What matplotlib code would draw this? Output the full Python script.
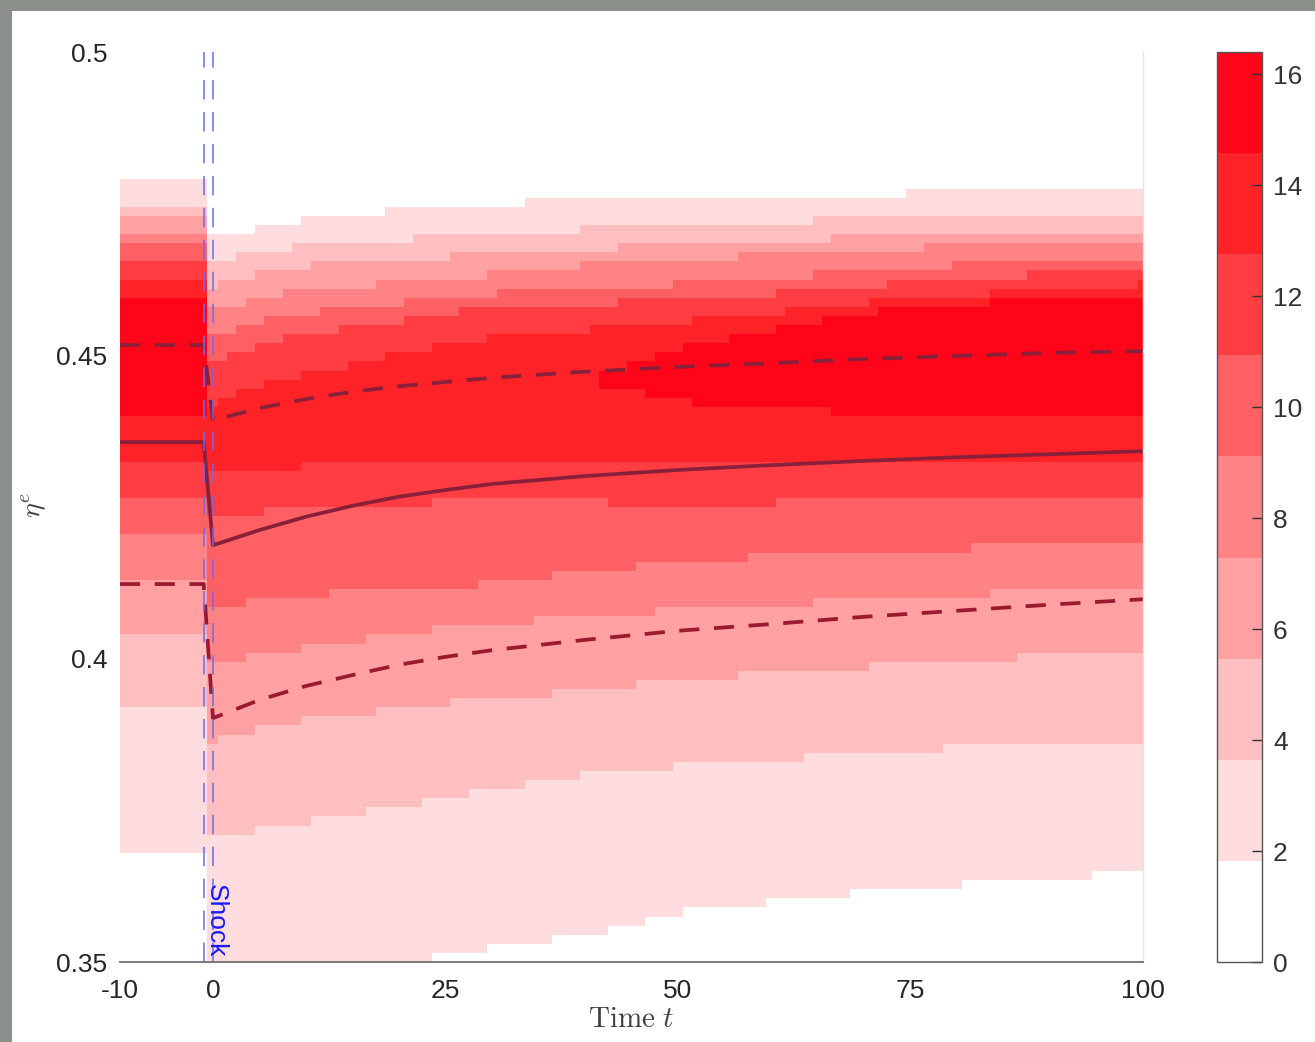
import numpy as np
import matplotlib
matplotlib.use("Agg")
import matplotlib.pyplot as plt
from matplotlib.colors import ListedColormap, BoundaryNorm
from matplotlib.cm import ScalarMappable
from matplotlib.patches import Rectangle

plt.rcParams['font.family'] = ['Liberation Sans', 'DejaVu Sans']
plt.rcParams['mathtext.fontset'] = 'cm'
plt.rcParams['lines.scale_dashes'] = False

# ---------------- data ----------------
level_step = 1.822                        # density per colour band
n_levels = 8
cbar_ticks = [0, 2, 4, 6, 8, 10, 12, 14, 16]
band_colors = ['#ffffff', '#ffdcde', '#ffbec0', '#ffa0a2', '#ff8284',
               '#ff6064', '#ff3d42', '#ff2328', '#ff0519']

# pre-shock density band edges (eta), level >= k for k = 1..8
pre_upper = [0.4784, 0.4740, 0.4726, 0.4695, 0.4680, 0.4649, 0.4621, 0.4591]
pre_lower = [0.3673, 0.3924, 0.4039, 0.4130, 0.4204, 0.4265, 0.4331, 0.4397]

# post-shock density band edges at knot times (level >= k, k = 1..8)
knot_t = [0, 5, 10, 27, 40, 52, 75, 100]
post_upper = [
    [0.4693, 0.4710, 0.4723, 0.4751, 0.4754, 0.4756, 0.4768, 0.4769],
    [0.4654, 0.4670, 0.4682, 0.4697, 0.4708, 0.4716, 0.4728, 0.4735],
    [0.4616, 0.4634, 0.4647, 0.4664, 0.4675, 0.4685, 0.4697, 0.4705],
    [0.4575, 0.4595, 0.4608, 0.4629, 0.4649, 0.4659, 0.4677, 0.4688],
    [0.4534, 0.4555, 0.4570, 0.4599, 0.4613, 0.4619, 0.4644, 0.4662],
    [0.4492, 0.4517, 0.4535, 0.4573, 0.4586, 0.4591, 0.4621, 0.4644],
    [0.4421, 0.4449, 0.4468, 0.4524, 0.4542, 0.4558, 0.4595, 0.4618],
    [0.4369, 0.4377, 0.4385, 0.4418, 0.4459, 0.4519, 0.4583, 0.4596],
]
post_lower = [
    [0.3437, 0.3454, 0.3467, 0.3517, 0.3545, 0.3586, 0.3622, 0.3648],
    [0.3706, 0.3720, 0.3730, 0.3775, 0.3808, 0.3826, 0.3850, 0.3866],
    [0.3866, 0.3886, 0.3899, 0.3930, 0.3948, 0.3967, 0.3993, 0.4014],
    [0.3993, 0.4008, 0.4019, 0.4054, 0.4069, 0.4082, 0.4102, 0.4118],
    [0.4085, 0.4097, 0.4105, 0.4120, 0.4143, 0.4164, 0.4179, 0.4192],
    [0.4234, 0.4242, 0.4248, 0.4260, 0.4258, 0.4255, 0.4262, 0.4265],
    [0.4308, 0.4314, 0.4318, 0.4326, 0.4327, 0.4329, 0.4326, 0.4321],
    [0.4369, 0.4377, 0.4385, 0.4418, 0.4459, 0.4420, 0.4400, 0.4395],
]

# lines
line_t = [-10, -1, 0, 5, 10, 15, 20, 25, 30, 40, 50, 60, 70, 80, 90, 100]
mean_line = [0.4357, 0.4357, 0.4187, 0.4212, 0.4234, 0.4252, 0.4267, 0.4278,
             0.4288, 0.4301, 0.4311, 0.4319, 0.4326, 0.4332, 0.4337, 0.4342]
upper_line = [0.4517, 0.4517, 0.4393, 0.4413, 0.4428, 0.4440, 0.4449, 0.4456,
              0.4463, 0.4473, 0.4481, 0.4487, 0.4494, 0.4499, 0.4504, 0.4507]
lower_line = [0.4123, 0.4123, 0.3902, 0.3932, 0.3955, 0.3973, 0.3990, 0.4003,
              0.4014, 0.4031, 0.4046, 0.4057, 0.4069, 0.4079, 0.4089, 0.4098]
shock_times = [-1, 0]

xticks = [-10, 0, 25, 50, 75, 100]
yticks = [0.35, 0.4, 0.45, 0.5]
ytick_labels = ['0.35', '0.4', '0.45', '0.5']

# ---------------- density field ----------------
eta_edges = np.linspace(0.35, 0.5, 101)
eta_c = 0.5 * (eta_edges[:-1] + eta_edges[1:])

post_centers = np.arange(0, 101)
t_edges = np.concatenate([[-10.0, -0.6], np.arange(0.5, 100, 1.0), [100.0]])

cols = []
pre_count = np.zeros_like(eta_c)
for k in range(n_levels):
    pre_count += (eta_c >= pre_lower[k]) & (eta_c < pre_upper[k])
cols.append(pre_count)
for tc in post_centers:
    cnt = np.zeros_like(eta_c)
    for k in range(n_levels):
        up = np.interp(tc, knot_t, post_upper[k])
        lo = np.interp(tc, knot_t, post_lower[k])
        cnt += (eta_c >= lo) & (eta_c < up)
    cols.append(cnt)
Z = np.array(cols).T * level_step + level_step / 2

# ---------------- figure ----------------
W, H = 1315, 1042
fig = plt.figure(figsize=(W / 100, H / 100), dpi=100)
fig.patch.set_facecolor('white')
gray = '#8b918a'
fig.patches.append(Rectangle((0, 0), 12 / W, 1, transform=fig.transFigure,
                             facecolor=gray, edgecolor='none', zorder=-10))
fig.patches.append(Rectangle((0, 1 - 11 / H), 1, 11 / H, transform=fig.transFigure,
                             facecolor=gray, edgecolor='none', zorder=-10))

ax = fig.add_axes([120 / W, 1 - 962 / H, (1143 - 120) / W, (962 - 52) / H])
bounds = np.arange(n_levels + 2) * level_step
cmap = ListedColormap(band_colors)
norm = BoundaryNorm(bounds, cmap.N)
ax.pcolormesh(t_edges, eta_edges, Z, cmap=cmap, norm=norm, shading='flat',
              antialiased=False, linewidth=0, rasterized=True)

line_col = '#8a1f3a'
ax.plot(line_t, mean_line, color=line_col, lw=2.7, solid_capstyle='butt')
ax.plot(line_t, upper_line, color=line_col, lw=2.7, dashes=(14.5, 10.5))
ax.plot(line_t, lower_line, color='#9b1a30', lw=2.7, dashes=(14.5, 10.5))

for st in shock_times:
    ax.axvline(st, color='#6a6af2', lw=1.1, dashes=(14, 9))
ax.text(0.35, 0.3507, 'Shock', rotation=-90, color='#1a1aff', fontsize=19,
        ha='center', va='bottom')

ax.set_xlim(-10, 100)
ax.set_ylim(0.35, 0.5)
ax.set_xticks(xticks)
ax.set_xticklabels([str(v) for v in xticks])
ax.set_yticks(yticks)
ax.set_yticklabels(ytick_labels)
ax.tick_params(axis='both', length=0, labelsize=19, colors='#262626')
ax.tick_params(axis='y', pad=9)
ax.tick_params(axis='x', pad=12)
for s in ['left', 'top']:
    ax.spines[s].set_visible(False)
ax.spines['right'].set_color('#e4e4e4')
ax.spines['right'].set_linewidth(1.0)
ax.spines['bottom'].set_color('#6e6e6e')
ax.spines['bottom'].set_linewidth(1.3)

ax.set_xlabel(r'$\mathrm{Time}\ t$', fontsize=21, color='#404040', labelpad=2)
fig.text(34 / W, 1 - 505 / H, r'$\eta^e$', fontsize=20, color='#404040',
         rotation=90, ha='center', va='center')

cax = fig.add_axes([1217 / W, 1 - 962 / H, (1262 - 1217) / W, (962 - 52) / H])
sm = ScalarMappable(norm=norm, cmap=cmap)
cb = fig.colorbar(sm, cax=cax, ticks=cbar_ticks)
cb.minorticks_off()
cb.outline.set_edgecolor('#555555')
cb.outline.set_linewidth(1.0)
cax.tick_params(which='both', direction='in', length=7, width=1, colors='#333333',
                labelsize=19, pad=8)
cax.tick_params(which='minor', length=0)
cax.set_yticklabels([str(v) for v in cbar_ticks])

fig.savefig('out.png', dpi=100, facecolor=fig.get_facecolor())
